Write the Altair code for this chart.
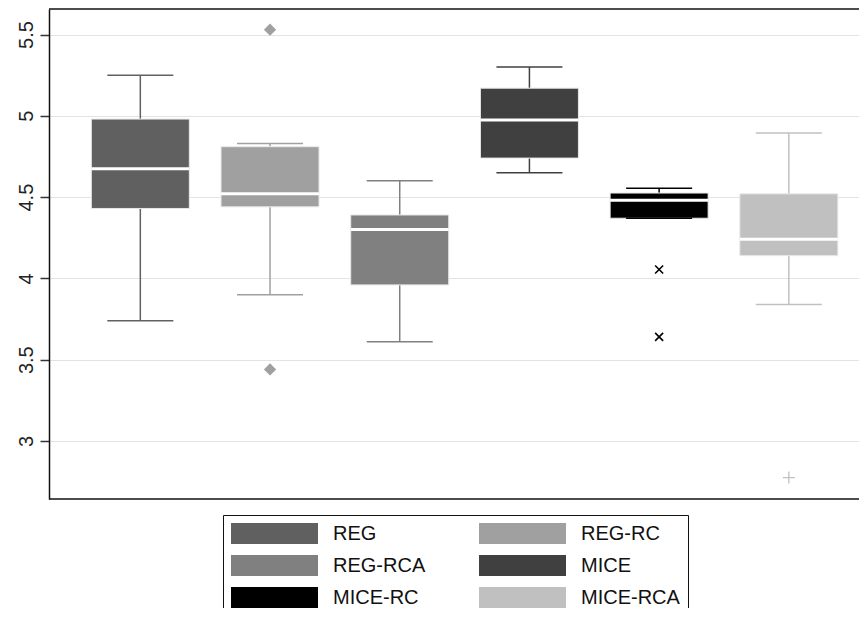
import altair as alt
import pandas as pd

# ---- data ----
groups = ["REG", "REG-RC", "REG-RCA", "MICE", "MICE-RC", "MICE-RCA"]
whisk_lo = [3.74, 3.90, 3.61, 4.65, 4.37, 3.84]
q1 = [4.43, 4.44, 3.96, 4.74, 4.37, 4.14]
median = [4.675, 4.52, 4.30, 4.975, 4.48, 4.24]
q3 = [4.98, 4.81, 4.39, 5.17, 4.525, 4.52]
whisk_hi = [5.25, 4.83, 4.60, 5.30, 4.555, 4.895]

out_group = ["REG-RC", "REG-RC", "MICE-RC", "MICE-RC", "MICE-RCA"]
out_value = [5.53, 3.44, 4.055, 3.64, 2.775]

colors = ["#606060", "#a0a0a0", "#808080", "#404040", "#000000", "#c0c0c0"]
y_ticks = [3, 3.5, 4, 4.5, 5, 5.5]

box = pd.DataFrame({"group": groups, "lo": whisk_lo, "q1": q1,
                    "med": median, "q3": q3, "hi": whisk_hi})
out = pd.DataFrame({"group": out_group, "value": out_value})

W, H = 818, 490
FONT = "Liberation Sans"

xenc = alt.X("group:N", sort=groups, axis=None,
             scale=alt.Scale(domain=groups, paddingInner=0.2444,
                             paddingOuter=0.2756, align=0.592, round=False))
yscale = alt.Scale(domain=[2.643, 5.657], nice=False, zero=False)
yaxis = alt.Axis(values=y_ticks, labelExpr="'' + datum.value", labelAngle=270,
                 labelAlign="center", labelBaseline="alphabetic", labelPadding=8,
                 labelFontSize=20, labelFont=FONT, labelColor="#222",
                 tickSize=9, tickWidth=1.5, tickColor="#333",
                 domainColor="#111", domainWidth=1.5,
                 grid=True, gridColor="#e3e3e3", gridWidth=1.2, title=None)

col_scale = alt.Scale(domain=groups, range=colors)
legend = alt.Legend(title=None, orient="none", legendX=174, legendY=506,
                    columns=2, direction="horizontal",
                    symbolType="M-1,-0.2414H1V0.2414H-1Z",
                    symbolSize=7569, symbolStrokeWidth=0, symbolOpacity=1,
                    clipHeight=21, labelFontSize=20, labelFont=FONT,
                    labelColor="#111", labelOffset=15, labelLimit=300,
                    rowPadding=11, columnPadding=53, padding=8,
                    strokeColor="#111", fillColor="white")

def fill_enc():
    return alt.Fill("group:N", scale=col_scale, legend=legend)

def stroke_enc():
    return alt.Stroke("group:N", scale=col_scale, legend=legend)

def yq(field):
    return alt.Y(field, scale=yscale, axis=yaxis)

base = alt.Chart(box)

whisk_up = base.mark_rule(strokeWidth=1.5, opacity=1).encode(
    x=xenc, y=yq("q3:Q"), y2="hi:Q", stroke=stroke_enc())
whisk_dn = base.mark_rule(strokeWidth=1.5, opacity=1).encode(
    x=xenc, y=yq("lo:Q"), y2="q1:Q", stroke=stroke_enc())

bars = base.mark_bar(stroke="#e8e8e8", strokeWidth=1, opacity=1).encode(
    x=xenc, y=yq("q3:Q"), y2="q1:Q", fill=fill_enc())

med = base.mark_tick(color="white", thickness=3, size=98, orient="horizontal",
                     opacity=1).encode(x=xenc, y=yq("med:Q"))

cap_hi = base.mark_tick(thickness=1.5, size=66, orient="horizontal", opacity=1).encode(
    x=xenc, y=yq("hi:Q"), fill=fill_enc())
cap_lo = base.mark_tick(thickness=1.5, size=66, orient="horizontal", opacity=1).encode(
    x=xenc, y=yq("lo:Q"), fill=fill_enc())

obase = alt.Chart(out)
diam = obase.transform_filter(alt.datum.group == "REG-RC").mark_point(
    shape="diamond", filled=True, size=150, opacity=1).encode(
    x=xenc, y=yq("value:Q"), fill=fill_enc())
xmark = obase.transform_filter(alt.datum.group == "MICE-RC").mark_point(
    shape="M-1,-1L1,1M1,-1L-1,1", filled=False, size=64, strokeWidth=1.6, opacity=1).encode(
    x=xenc, y=yq("value:Q"), stroke=stroke_enc())
plus = obase.transform_filter(alt.datum.group == "MICE-RCA").mark_point(
    shape="M-1,0L1,0M0,-1L0,1", filled=False, size=144, strokeWidth=1.3, opacity=1).encode(
    x=xenc, y=yq("value:Q"), stroke=stroke_enc())

frame_df = pd.DataFrame({"f": [0]})
top = alt.Chart(frame_df).mark_rule(color="#111", strokeWidth=1.5).encode(y=alt.value(0))
bottom = alt.Chart(frame_df).mark_rule(color="#111", strokeWidth=1.5).encode(y=alt.value(H))

chart = alt.layer(whisk_up, whisk_dn, bars, med, cap_hi, cap_lo, diam, xmark, plus,
                  top, bottom).properties(
    width=W, height=H,
    autosize=alt.AutoSizeParams(type="none"),
    padding={"left": 41, "top": 1, "right": -8, "bottom": 109},
).configure_view(stroke=None)

chart.save("out.html", embed_options={"renderer": "svg", "actions": False})
